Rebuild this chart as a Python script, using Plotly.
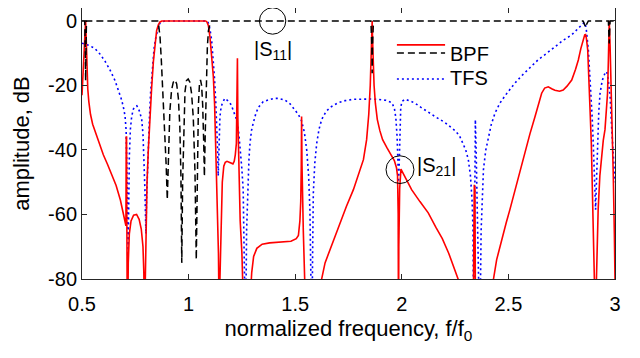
import plotly.graph_objects as go

# ---------------- data ----------------
bpf_s21_f = [0.500, 0.505, 0.510, 0.514, 0.517, 0.520, 0.523, 0.527, 0.532, 0.540, 0.550, 0.565, 0.580,
             0.600, 0.620, 0.640, 0.660, 0.680, 0.695, 0.703, 0.706, 0.7075, 0.709, 0.7115, 0.714,
             0.717, 0.722, 0.730, 0.742, 0.756, 0.768, 0.778, 0.786, 0.790, 0.7935,
             0.797, 0.800, 0.805, 0.811, 0.819, 0.827, 0.835, 0.842, 0.850, 0.858, 0.866, 0.874,
             0.900, 1.000, 1.080, 1.086, 1.093, 1.100, 1.108, 1.116, 1.122, 1.127, 1.132, 1.136, 1.140,
             1.142, 1.144, 1.147, 1.152, 1.158, 1.165, 1.172, 1.180, 1.190, 1.200, 1.208, 1.214, 1.219,
             1.224, 1.227, 1.229, 1.231, 1.236, 1.242, 1.250, 1.257, 1.262, 1.285, 1.290, 1.296, 1.305,
             1.320, 1.345, 1.380, 1.430, 1.480, 1.505, 1.515, 1.522, 1.526, 1.5285, 1.530, 1.532, 1.538,
             1.545, 1.549, 1.553, 1.615, 1.624, 1.640, 1.663, 1.690, 1.710, 1.740, 1.773, 1.800, 1.820,
             1.835, 1.845, 1.852, 1.857, 1.860, 1.861, 1.863, 1.866, 1.870, 1.876, 1.885, 1.897, 1.910,
             1.930, 1.950, 1.965, 1.975, 1.980, 1.983, 1.9845, 1.986, 1.990, 1.994, 1.996, 1.999, 2.010,
             2.046, 2.085, 2.124, 2.160, 2.190, 2.220, 2.245, 2.265, 2.275, 2.334, 2.3375, 2.340, 2.343,
             2.346, 2.425, 2.430, 2.445, 2.468, 2.490, 2.507, 2.531, 2.555, 2.578, 2.601, 2.625, 2.642,
             2.656, 2.670, 2.687, 2.703, 2.718, 2.740, 2.757, 2.775, 2.797, 2.815, 2.828, 2.840, 2.851,
             2.858, 2.862, 2.866, 2.872, 2.878, 2.883, 2.889, 2.894, 2.899, 2.903, 2.907, 2.910, 2.913,
             2.917, 2.921, 2.929, 2.937, 2.945, 2.953, 2.960, 2.965, 2.969, 2.973, 2.977, 2.981, 2.987,
             2.992, 2.997, 3.000]
bpf_s21_db = [-23, -17, -9, -3, 0, -6, -15, -21, -25, -29, -32, -35, -38,
              -41.5, -44.5, -47.5, -51, -55.5, -60, -63, -63.5, -36, -36, -80, -100,
              -75, -66, -62, -60.2, -60, -61.5, -64.5, -70, -78, -100,
              -80, -62, -50, -40, -29, -20.3, -12.5, -6.9, -3, -1.2, -0.3, 0,
              0, 0, 0, -0.3, -1.5, -4.9, -10, -17.2, -26, -37.9, -50, -58.5, -72,
              -85, -100, -80, -60, -50, -45, -43.8, -43.5, -43.8, -44.3, -44.3, -43.5, -41.5,
              -38, -25, -11.6, -30, -50, -62, -72, -82, -100, -100, -85, -78, -73,
              -70.5, -69.2, -68.8, -68.6, -68.3, -67.5, -66.5, -62, -56, -45, -29.6, -45, -65,
              -78, -85, -100, -100, -80, -75, -71, -66, -62.6, -57.5, -52.3, -47, -43,
              -36.8, -29, -20, -10, -3, 0, -6, -14, -20, -25.5, -30.5, -34, -36.8,
              -39.3, -41.5, -43.3, -45.5, -48, -60, -100, -70, -52, -47, -45.9, -46.3, -47.7,
              -52.3, -56, -59.5, -64, -67.5, -72, -76.5, -80, -82, -100, -51, -50.8, -52,
              -100, -100, -80, -74, -67.8, -62.5, -58.5, -52.3, -46, -40, -35, -29.6, -25.5,
              -22.4, -20.8, -20.4, -21, -21.5, -21.8, -21.4, -20.2, -18.3, -15, -12.1, -8.5, -5.9,
              -4.3, -4.2, -5.5, -9, -17, -27.6, -38, -48, -60, -68.8, -80, -100, -80,
              -66, -58.5, -48, -41, -37, -33.7, -28, -22.4, -12, 0, -8, -17, -32,
              -48, -66, -80]

bpf_s11_f = [0.500, 0.513, 0.5155, 0.517, 0.5185, 0.521, 0.855, 0.860, 0.866, 0.872, 0.880, 0.888,
             0.895, 0.900, 0.905, 0.912, 0.920, 0.928, 0.936, 0.944, 0.952, 0.959, 0.964, 0.968,
             0.972, 0.977, 0.983, 0.990, 0.998, 1.006, 1.014, 1.022, 1.030, 1.036, 1.041, 1.046,
             1.051, 1.056, 1.061, 1.066, 1.071, 1.074, 1.078, 1.083, 1.088, 1.093, 1.100, 1.108,
             1.855, 1.8595, 1.861, 1.8625, 1.867, 2.850, 2.857, 2.862, 2.867, 2.875, 2.969, 2.9715,
             2.973, 2.9745, 2.977, 3.000]
bpf_s11_db = [0, 0, -10, -18.5, -10, 0, 0, -1.5, -5, -12, -22, -33,
              -45, -55.4, -40, -28, -21.5, -19, -18.3, -19.5, -24, -33, -48, -75,
              -50, -32, -22, -18.5, -18, -19, -22.5, -30, -47, -74, -45, -26,
              -19.5, -18.3, -20, -26, -38, -48.2, -35, -18, -8, -3, -1, 0,
              0, -8, -16.2, -8, 0, 0, -1, -2, -1, 0, 0, -4,
              -7, -4, 0, 0]

tfs_s21_f = [0.500, 0.530, 0.560, 0.585, 0.608, 0.630, 0.655, 0.672, 0.686, 0.695, 0.702, 0.707,
             0.711, 0.714, 0.7165, 0.719, 0.722, 0.727, 0.733, 0.741, 0.749, 0.757, 0.764, 0.772,
             0.780, 0.786, 0.791, 0.795, 0.799, 0.800, 0.803, 0.807, 0.812, 0.8165, 0.822, 0.827,
             0.834, 0.838, 0.845, 0.851, 0.860, 0.866, 0.874, 0.890, 1.000, 1.085, 1.092, 1.100,
             1.108, 1.115, 1.121, 1.127, 1.132, 1.136, 1.139, 1.141, 1.144, 1.147, 1.152, 1.158,
             1.170, 1.186, 1.200, 1.209, 1.225, 1.235, 1.242, 1.250, 1.256, 1.262, 1.267, 1.272,
             1.277, 1.283, 1.288, 1.295, 1.303, 1.315, 1.327, 1.350, 1.374, 1.400, 1.421, 1.452,
             1.476, 1.499, 1.515, 1.530, 1.543, 1.554, 1.563, 1.569, 1.574, 1.578, 1.582, 1.585,
             1.592, 1.601, 1.612, 1.624, 1.645, 1.671, 1.700, 1.734, 1.770, 1.812, 1.850, 1.890,
             1.925, 1.953, 1.965, 1.972, 1.978, 1.982, 1.985, 1.988, 1.991, 1.995, 2.000, 2.015,
             2.040, 2.062, 2.090, 2.124, 2.160, 2.203, 2.230, 2.250, 2.270, 2.285, 2.300, 2.312,
             2.322, 2.330, 2.334, 2.337, 2.340, 2.343, 2.345, 2.348, 2.355, 2.362, 2.366, 2.372,
             2.378, 2.383, 2.394, 2.406, 2.420, 2.437, 2.460, 2.484, 2.507, 2.530, 2.562, 2.600,
             2.640, 2.680, 2.718, 2.757, 2.797, 2.820, 2.844, 2.855, 2.860, 2.866, 2.875, 2.881,
             2.887, 2.893, 2.898, 2.903, 2.907, 2.909, 2.912, 2.918, 2.924, 2.930, 2.940, 2.953,
             2.961, 2.968, 2.977, 2.984, 2.992, 3.000]
tfs_s21_db = [-6.9, -7.5, -8.5, -10.3, -12.5, -15, -18.5, -21.5, -24.5, -27, -29.5, -34,
              -45, -58, -72, -58, -42, -33.5, -29.6, -27.3, -26.5, -26.3, -27, -28.5,
              -30.6, -35, -42, -52, -64, -66, -55, -45, -36, -29.6, -22, -17.2,
              -11.5, -8.5, -5.5, -3.3, -1.3, -0.7, -0.3, 0, 0, 0, -0.5, -2.5,
              -5.9, -11, -17.2, -24.5, -31.7, -40, -48, -43, -35, -29.6, -27, -25.5,
              -24, -24.8, -26, -27.6, -30.6, -34.5, -39, -46, -52.3, -65, -100, -65,
              -53.4, -43, -37.9, -34, -31.7, -28.8, -26.8, -25, -24.5, -24, -24, -24.5,
              -25.7, -27.6, -29, -31, -34.5, -40, -48, -58.5, -70, -100, -70, -53.4,
              -44, -37.9, -33.5, -30.6, -28, -26.5, -25.4, -24.7, -24.3, -24.2, -24.2, -24.3,
              -24.6, -25.3, -27, -30, -36, -44, -50, -44, -33, -27, -25, -24.3,
              -24.8, -25.5, -26.8, -28.3, -29.8, -31.5, -32.8, -34, -35.5, -37.5, -40, -43,
              -48, -56, -65, -100, -55, -35, -30.6, -38, -55, -70, -100, -65,
              -52, -46, -40, -36, -32, -28.6, -25.5, -23.2, -21.2, -19.3, -17, -14.5,
              -12, -10, -8, -6, -4.3, -2.8, -1.2, -0.5, -0.6, -3, -9, -15,
              -22.4, -30, -37.9, -46, -54, -58.5, -52, -38, -28, -22.4, -18.5, -16.2,
              -15.7, -18, -23.4, -32.7, -43, -50]

x_ticks = [0.5, 1, 1.5, 2, 2.5, 3]
x_tick_text = ["0.5", "1", "1.5", "2", "2.5", "3"]
y_ticks = [0, -20, -40, -60, -80]
y_tick_text = ["0", "-20", "-40", "-60", "-80"]

# ---------------- figure ----------------
FONT = "Liberation Sans, Arial, Helvetica, sans-serif"
RED = "rgb(255,0,0)"
BLUE = "rgb(0,0,255)"
BLACK = "rgb(0,0,0)"

fig = go.Figure()
fig.add_trace(go.Scatter(x=tfs_s21_f, y=tfs_s21_db, mode="lines", name="TFS",
                         line=dict(color=BLUE, width=1.6, dash="2px,3px"), showlegend=False))
fig.add_trace(go.Scatter(x=bpf_s21_f, y=bpf_s21_db, mode="lines", name="BPF",
                         line=dict(color=RED, width=1.6), showlegend=False))
fig.add_trace(go.Scatter(x=bpf_s11_f, y=bpf_s11_db, mode="lines", name="BPF S11",
                         line=dict(color=BLACK, width=1.5, dash="7px,4px"), showlegend=False))

shapes = [
    # circles marking |S11| and |S21|
    dict(type="circle", xref="x", yref="y", x0=1.332, x1=1.456, y0=-4.1, y1=4.1,
         line=dict(color="black", width=1)),
    dict(type="circle", xref="x", yref="y", x0=1.926, x1=2.057, y0=-50.4, y1=-41.8,
         line=dict(color="black", width=1)),
    # manual legend samples
    dict(type="line", xref="x", yref="y", x0=1.977, x1=2.203, y0=-7.4, y1=-7.4,
         line=dict(color=RED, width=1.6)),
    dict(type="line", xref="x", yref="y", x0=1.977, x1=2.203, y0=-9.9, y1=-9.9,
         line=dict(color=BLACK, width=1.5, dash="7px,4px")),
    dict(type="line", xref="x", yref="y", x0=1.977, x1=2.203, y0=-18.0, y1=-18.0,
         line=dict(color=BLUE, width=1.6, dash="2px,3px")),
]

annotations = [
    dict(x=1.396, y=-9, xref="x", yref="y", text="|S<sub>11</sub>|", showarrow=False,
         font=dict(family=FONT, size=20, color="black"), xanchor="center", yanchor="middle"),
    dict(x=2.06, y=-45, xref="x", yref="y", text="|S<sub>21</sub>|", showarrow=False,
         font=dict(family=FONT, size=20, color="black"), xanchor="left", yanchor="middle"),
    dict(x=2.215, y=-10.1, xref="x", yref="y", text="BPF", showarrow=False,
         font=dict(family=FONT, size=20, color="black"), xanchor="left", yanchor="middle"),
    dict(x=2.215, y=-17.8, xref="x", yref="y", text="TFS", showarrow=False,
         font=dict(family=FONT, size=20, color="black"), xanchor="left", yanchor="middle"),
]

AXCOL = "rgb(38,38,38)"
# the page body adds an 8px offset, so the figure is sized to sit inside the window
fig.update_layout(
    width=632, height=350,
    margin=dict(l=74, r=25, t=0, b=79, autoexpand=False),
    paper_bgcolor="white", plot_bgcolor="white",
    font=dict(family=FONT, size=20, color="black"),
    shapes=shapes, annotations=annotations,
    showlegend=False,
)
fig.update_xaxes(range=[0.5, 3], tickvals=x_ticks, ticktext=x_tick_text, automargin=False,
                 showgrid=False, zeroline=False, showline=True, mirror="ticks",
                 linecolor=AXCOL, linewidth=1, ticks="inside", ticklen=5, tickcolor=AXCOL,
                 tickfont=dict(size=20, color="black"), ticklabelstandoff=7,
                 title=dict(text="normalized frequency, f/f<sub>0</sub>", font=dict(size=22), standoff=6))
fig.update_yaxes(range=[-80, 4.02], tickvals=y_ticks, ticktext=y_tick_text, automargin=False,
                 showgrid=False, zeroline=False, showline=True, mirror="ticks",
                 linecolor=AXCOL, linewidth=1, ticks="inside", ticklen=5, tickcolor=AXCOL,
                 tickfont=dict(size=20, color="black"),
                 title=dict(text="amplitude, dB", font=dict(size=22), standoff=12))

fig.write_html("out.html")
